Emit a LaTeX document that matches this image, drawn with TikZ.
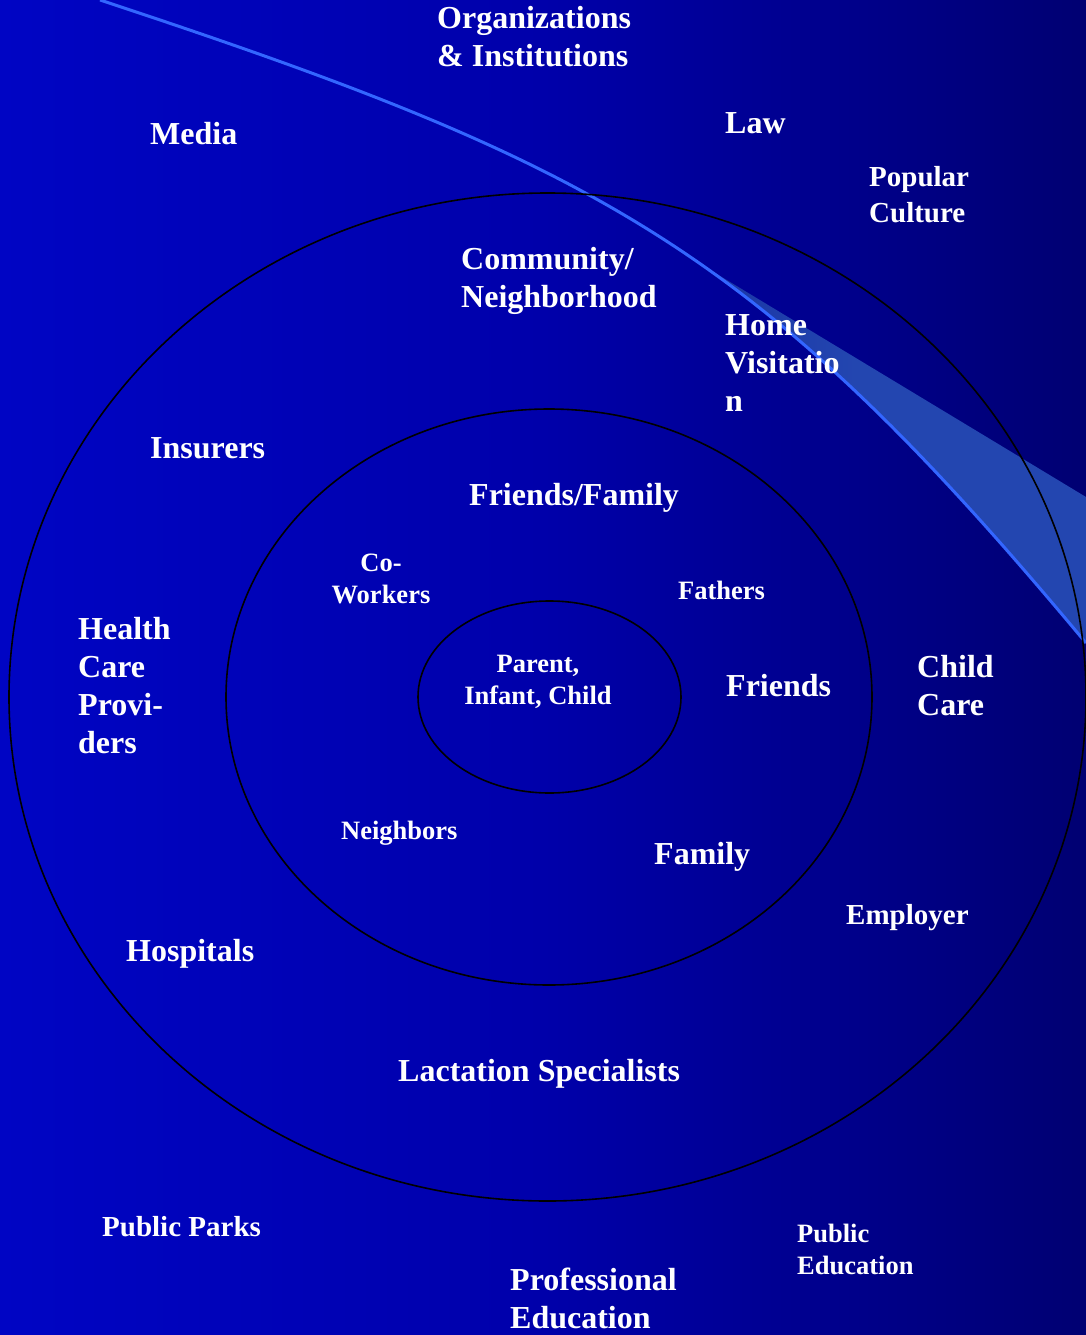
\documentclass[tikz,border=0pt]{standalone}
\usepackage{fontspec}
\setmainfont{Liberation Serif}
\usetikzlibrary{shapes.geometric}
\definecolor{bgL}{RGB}{0,10,222}
\definecolor{bgM}{RGB}{0,0,170}
\definecolor{bgR}{RGB}{0,0,58}
\definecolor{swoosh}{RGB}{51,102,255}
\definecolor{bandL}{RGB}{14,30,150}
\definecolor{bandc}{RGB}{35,70,176}
\pgfdeclarehorizontalshading{bgshade}{100bp}{color(0bp)=(bgL); color(50bp)=(bgM); color(100bp)=(bgR)}
\pgfdeclarehorizontalshading{bandshade}{100bp}{color(0bp)=(bandL); color(45bp)=(bandc); color(100bp)=(bandc)}
\tikzset{
  lbl/.style={text=white, inner sep=0pt, anchor=base west, align=left, font=\bfseries\fontsize{32}{38}\selectfont},
  lblm/.style={lbl, font=\bfseries\fontsize{29}{36}\selectfont},
  lbls/.style={lbl, font=\bfseries\fontsize{26.5}{32}\selectfont},
  lblsc/.style={lbls, anchor=base, align=center},
  ring/.style={draw=black, line width=1.6pt, ellipse, inner sep=0pt}
}
\begin{document}
\begin{tikzpicture}[x=1pt,y=-1pt]
\useasboundingbox (0,0) rectangle (1086,1335);
\shade[shading=bgshade] (0,0) rectangle (1086,1335);
% swoosh band
\coordinate (bs) at (702.1,265.1);
\coordinate (be) at (1086,643);
\shade[shading=bandshade] (bs) -- (1086,497) -- (be)
  .. controls (938.9,466.6) and (826.9,352.4) .. (bs) -- cycle;
\draw[swoosh, line width=3pt] (100,0) .. controls (605.5,166.8) and (759.2,250.8) .. (be);
% rings
\node[ring, minimum width=1077pt, minimum height=1008pt] (outer) at (547.5,697) {};
\node[ring, minimum width=646pt, minimum height=576pt] (middle) at (549,697) {};
\node[ring, minimum width=263pt, minimum height=192pt] (inner) at (549.5,697) {};
% labels (anchor = baseline of last line)
\node[lbl] (org) at (437,67) {Organizations\\\& Institutions};
\node[lbl] (media) at (150,145) {Media};
\node[lbl] (law) at (725,133) {Law};
\node[lblm] (pop) at (869,222) {Popular\\Culture};
\node[lbl] (comm) at (461,307) {Community/\\Neighborhood};
\node[lbl] (home) at (725,411) {Home\\Visitatio\\n};
\node[lbl] (ins) at (150,458) {Insurers};
\node[lbl] (ff) at (469,505) {Friends/Family};
\node[lblsc] (cow) at (381,603) {Co-\\Workers};
\node[lbls] (fath) at (678,599) {Fathers};
\node[lbl] (hcp) at (78,753) {Health\\Care\\Provi-\\ders};
\node[lblsc] (pic) at (538,704) {Parent,\\Infant, Child};
\node[lbl] (fr) at (726,696) {Friends};
\node[lbl] (cc) at (917,715) {Child\\Care};
\node[lbls] (nb) at (341,839) {Neighbors};
\node[lbl] (fam) at (654,864) {Family};
\node[lblm] (emp) at (846,924) {Employer};
\node[lbl] (hosp) at (126,961) {Hospitals};
\node[lbl] (lac) at (398,1081) {Lactation Specialists};
\node[lblm] (pp) at (102,1236) {Public Parks};
\node[lbls] (pe) at (797,1274) {Public\\Education};
\node[lbl] (prof) at (510,1328) {Professional\\Education};
\end{tikzpicture}
\end{document}
